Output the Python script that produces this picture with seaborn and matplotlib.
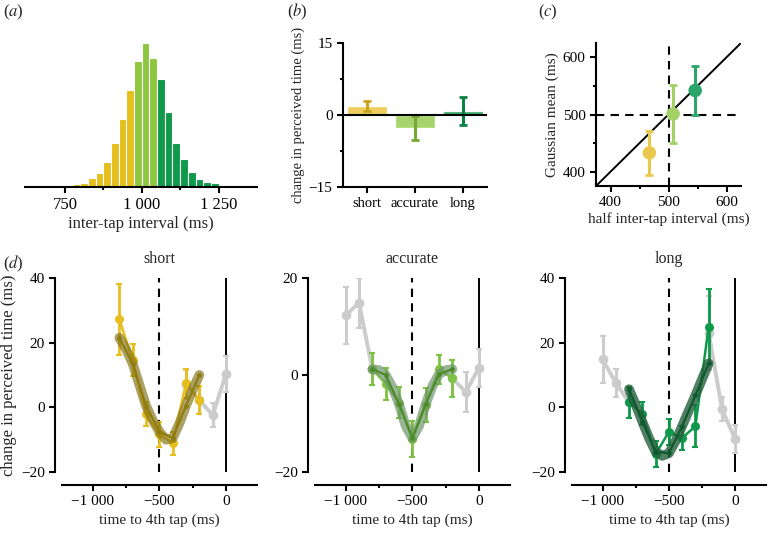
import numpy as np
import pandas as pd
import seaborn as sns
import matplotlib.pyplot as plt

# ---- data ----
# (a) inter-tap interval histogram, 25 ms bins (left edges) and bar heights
itv_left = [725, 750, 775, 800, 825, 850, 875, 900, 925, 950, 975, 1000,
            1025, 1050, 1075, 1100, 1125, 1150, 1175, 1200, 1225, 1250, 1275, 1300]
itv_count = [1, 1, 9, 11, 26, 41, 75, 131, 201, 288, 373, 427,
             382, 319, 222, 130, 82, 45, 24, 16, 11, 5, 3, 2]

# (b) mean change in perceived time per condition
conds = ['short', 'accurate', 'long']
shift_mean = [1.9, -2.7, 0.8]
shift_err = [1.0, 2.5, 2.9]

# (c) Gaussian fit mean vs half inter-tap interval
half_itv = [467, 508, 546]
gauss_mean = [433, 501, 542]
gauss_err = [38, 50, 42]

# (d) change in perceived time vs time to 4th tap
t_cond = [-800, -700, -600, -500, -400, -300, -200]
short_y = [27.2, 14.6, -2.2, -8.4, -11.1, 7.5, 2.2]
short_e = [11.0, 5.0, 3.7, 4.0, 3.6, 4.5, 4.3]
accurate_y = [1.2, -1.8, -5.7, -13.2, -6.1, 1.2, -0.7]
accurate_e = [3.3, 3.3, 3.2, 3.7, 3.5, 3.0, 3.8]
long_y = [1.5, -2.0, -14.5, -7.6, -9.5, -5.8, 25.0]
long_e = [4.7, 3.5, 4.0, 4.0, 3.7, 6.5, 11.5]

# grey flanking points (outside the fitted window), early and late segments
short_early_t, short_early_y, short_early_e = [], [], []
short_late_t = [-300, -200, -100, 0]
short_late_y = [7.2, 2.2, -2.4, 10.4]
short_late_e = [4.5, 4.3, 3.7, 5.6]
accurate_early_t = [-1000, -900, -800]
accurate_early_y = [12.3, 14.9, 1.2]
accurate_early_e = [5.9, 5.2, 3.3]
accurate_late_t = [-200, -100, 0]
accurate_late_y = [-0.7, -3.5, 1.5]
accurate_late_e = [3.8, 4.1, 3.9]
long_early_t = [-1000, -900, -800]
long_early_y = [14.8, 7.6, 1.5]
long_early_e = [7.4, 4.3, 4.7]
long_late_t = [-200, -100, 0]
long_late_y = [23.0, -0.5, -9.9]
long_late_e = [11.5, 3.6, 4.3]

# fitted curves (sampled every 50 ms)
fit_t = [-800, -750, -700, -650, -600, -550, -500, -450, -400, -350, -300, -250, -200]
short_fit = [21.5, 18.0, 13.5, 7.0, 0.5, -4.0, -7.5, -10.0, -9.5, -5.0, 0.5, 5.5, 10.0]
accurate_fit = [1.2, 1.0, 0.0, -2.5, -6.0, -10.5, -13.0, -10.5, -6.0, -2.3, 0.2, 1.0, 1.2]
long_fit = [5.6, 0.8, -4.4, -9.5, -13.7, -15.0, -14.2, -10.5, -5.8, -1.0, 3.7, 8.7, 13.6]

yellow, lgreen, dgreen = '#E6BE1E', '#8DC63F', '#0E9A4A'
gray = '#CCCCCC'

sns.set_style('ticks')
plt.rcParams['font.family'] = ['Liberation Serif', 'DejaVu Serif']
plt.rcParams['mathtext.fontset'] = 'stix'
plt.rcParams['font.size'] = 11
plt.rcParams['axes.labelsize'] = 11
plt.rcParams['axes.linewidth'] = 1.5
plt.rcParams['axes.edgecolor'] = 'black'
for a in ['xtick', 'ytick']:
    plt.rcParams[a + '.major.width'] = 1.5
    plt.rcParams[a + '.minor.width'] = 1.5
    plt.rcParams[a + '.major.size'] = 4
    plt.rcParams[a + '.minor.size'] = 2.5
    plt.rcParams[a + '.color'] = 'black'
    plt.rcParams[a + '.labelsize'] = 11

fig = plt.figure(figsize=(7.68, 5.33), dpi=100)


def pos(l, t, r, b):
    return [l / 768, 1 - b / 533, (r - l) / 768, (b - t) / 533]


# ---- (a) ----
ax = fig.add_axes(pos(25, 43, 257, 187))
hist = pd.DataFrame({'left': itv_left, 'count': itv_count})
hist['centre'] = hist['left'] + 12.5
groups = [(hist['left'] < 975, yellow),
          ((hist['left'] >= 975) & (hist['left'] < 1050), lgreen),
          (hist['left'] >= 1050, dgreen)]
for mask, col in groups:
    sub = hist[mask]
    sns.histplot(data=sub, x='centre', weights='count', binwidth=25,
                 binrange=(sub['left'].min(), sub['left'].max() + 25), color=col,
                 alpha=1, edgecolor='white', linewidth=0.8, ax=ax)
ax.set_xlim(620, 1375)
ax.set_ylim(0, 427)
ax.set_xticks([750, 1000, 1250])
ax.set_xticklabels(['750', '1 000', '1 250'])
ax.set_xticks([875, 1125], minor=True)
ax.tick_params(labelsize=12)
ax.set_yticks([])
ax.set_ylabel('')
ax.set_xlabel('inter-tap interval (ms)', fontsize=12, labelpad=2)
sns.despine(ax=ax, left=True)

# ---- (b) ----
ax = fig.add_axes(pos(343, 43, 487, 187))
bar_cols = ['#EBC94C', '#9FD05E', '#22A05C']
err_cols = ['#C9A21E', '#76AA34', '#0B8242']
sns.barplot(x=conds, y=shift_mean, hue=conds, palette=bar_cols, width=0.83,
            saturation=1, alpha=0.9, legend=False, ax=ax)
for i in range(3):
    ax.errorbar(i, shift_mean[i], yerr=shift_err[i], fmt='none', ecolor=err_cols[i],
                elinewidth=2.2, capsize=3, capthick=2)
ax.axhline(0, color='black', lw=1.5)
ax.set_xlim(-0.5, 2.5)
ax.set_ylim(-15, 15)
ax.set_yticks([-15, 0, 15])
ax.set_yticklabels(['\u221215', '0', '15'])
ax.set_yticks([-7.5, 7.5], minor=True)
ax.tick_params(axis='x', labelsize=10.5)
ax.set_ylabel('change in perceived time (ms)', fontsize=10.5, labelpad=3)
sns.despine(ax=ax)

# ---- (c) ----
ax = fig.add_axes(pos(596, 43, 741, 186))
ax.axline((500, 500), slope=1, color='black', lw=1.4)
ax.axvline(500, color='black', lw=1.5, ls=(0, (4, 3)))
ax.axhline(500, color='black', lw=1.5, ls=(0, (4, 3)))
c_cols = ['#EAC84E', '#A4D068', '#2BA66A']
for i in range(3):
    ax.errorbar(half_itv[i], gauss_mean[i], yerr=gauss_err[i], fmt='none',
                ecolor=c_cols[i], elinewidth=2.2, capsize=3, capthick=2)
sns.scatterplot(x=half_itv, y=gauss_mean, hue=conds, palette=c_cols, s=95,
                edgecolor='none', legend=False, ax=ax, zorder=3)
ax.set_xlim(375, 625)
ax.set_ylim(375, 625)
ax.set_xticks([400, 500, 600])
ax.set_yticks([400, 500, 600])
ax.set_xticks([450, 550], minor=True)
ax.set_yticks([450, 550], minor=True)
ax.set_xlabel('half inter-tap interval (ms)', labelpad=2)
ax.set_ylabel('Gaussian mean (ms)', labelpad=3)
sns.despine(ax=ax)

# ---- (d) ----
panels = [
    ('short', pos(62, 278, 257, 472), short_y, short_e, yellow,
     [(short_early_t, short_early_y, short_early_e), (short_late_t, short_late_y, short_late_e)],
     short_fit, '#7F6E12', 0.65, '#8F7C10', (-20, 40)),
    ('accurate', pos(315, 278, 510, 472), accurate_y, accurate_e, '#7DC242',
     [(accurate_early_t, accurate_early_y, accurate_early_e),
      (accurate_late_t, accurate_late_y, accurate_late_e)],
     accurate_fit, '#6E946A', 0.7, '#4C8C28', (-20, 20)),
    ('long', pos(572, 278, 766, 472), long_y, long_e, dgreen,
     [(long_early_t, long_early_y, long_early_e), (long_late_t, long_late_y, long_late_e)],
     long_fit, '#255F3C', 0.8, '#0E5A2E', (-20, 40)),
]
for k, (name, p, y, e, col, greys, fit, fcol, falpha, dcol, ylim) in enumerate(panels):
    ax = fig.add_axes(p)
    ax.axvline(-500, color='black', lw=1.5, ls=(0, (4, 3)))
    ax.axvline(0, color='black', lw=1.4)
    for gt, gy, ge in greys:
        if not gt:
            continue
        ax.errorbar(gt, gy, yerr=ge, fmt='none', ecolor=gray, elinewidth=2.2,
                    capsize=2, capthick=1.5)
        sns.lineplot(x=gt, y=gy, color=gray, lw=2.8, marker='o', markersize=7,
                     markeredgewidth=0, ax=ax)
    ax.errorbar(t_cond, y, yerr=e, fmt='none', ecolor=col, elinewidth=2,
                capsize=2, capthick=1.5)
    sns.lineplot(x=t_cond, y=y, color=col, lw=1.8, marker='o', markersize=6.5,
                 markeredgewidth=0, ax=ax)
    sns.lineplot(x=fit_t, y=fit, color=fcol, lw=7, alpha=falpha,
                 solid_capstyle='round', solid_joinstyle='round', ax=ax)
    sns.lineplot(x=fit_t[::2], y=fit[::2], color=dcol, lw=1.6, marker='o',
                 markersize=3.5, markeredgewidth=0, ax=ax)
    ax.set_xlim(-1230, 232)
    ax.set_ylim(*ylim)
    ax.set_xticks([-1000, -500, 0])
    ax.set_xticklabels(['\u22121 000', '\u2212500', '0'])
    ax.set_xticks([-750, -250], minor=True)
    ticks = list(range(ylim[0], ylim[1] + 1, 20))
    ax.set_yticks(ticks)
    ax.set_yticklabels([str(v).replace('-', '\u2212') for v in ticks])
    ax.set_title(name, fontsize=11.5, pad=11)
    ax.set_xlabel('time to 4th tap (ms)', labelpad=4)
    ax.set_ylabel('change in perceived time (ms)' if k == 0 else '',
                  fontsize=12, labelpad=3)
    sns.despine(ax=ax)
    ax.spines['left'].set_position(('outward', 5))
    ax.spines['bottom'].set_position(('outward', 9))

fig.text(3 / 768, 1 - 16 / 533, r'($a$)', fontsize=12)
fig.text(287 / 768, 1 - 16 / 533, r'($b$)', fontsize=12)
fig.text(538 / 768, 1 - 16 / 533, r'($c$)', fontsize=12)
fig.text(3 / 768, 1 - 268 / 533, r'($d$)', fontsize=12)

fig.savefig('out.png', dpi=100)
